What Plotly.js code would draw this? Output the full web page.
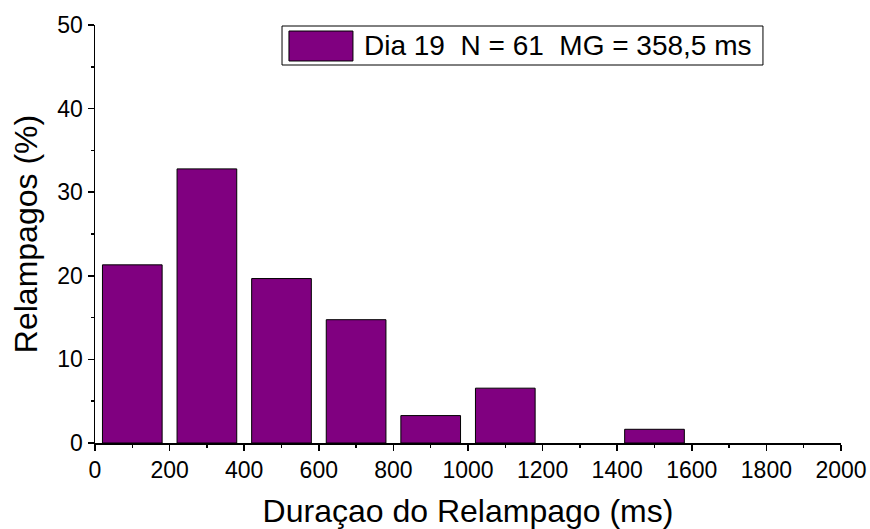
<!DOCTYPE html>
<html>
<head>
<meta charset="utf-8">
<script src="https://cdn.plot.ly/plotly-3.0.1.min.js"></script>
<style>html,body{margin:0;padding:0;background:#fff;}#chart{width:870px;height:529px;}</style>
</head>
<body>
<div id="chart"></div>
<script>
// Bin centres (ms) and percentage of flashes per bin
const binCenters = [100, 300, 500, 700, 900, 1100, 1300, 1500];
const percentages = [21.31, 32.79, 19.67, 14.75, 3.28, 6.56, 0, 1.64];
const legendLabel = "Dia 19&nbsp;&nbsp;N = 61&nbsp;&nbsp;MG = 358,5 ms";
const xTitle = "Duraçao do Relampago (ms)";
const yTitle = "Relampagos (%)";

const FONT = "Liberation Sans, Arial, Helvetica, sans-serif";
const PURPLE = "#800080";

const trace = {
  type: "bar",
  x: binCenters,
  y: percentages,
  width: 160,
  marker: { color: PURPLE, line: { color: "#000", width: percentages.map(v => v > 0 ? 1 : 0) } },
  showlegend: false,
  hoverinfo: "x+y"
};

const layout = {
  width: 870, height: 529,
  margin: { l: 95, r: 29, t: 25, b: 86 },
  paper_bgcolor: "#fff", plot_bgcolor: "#fff",
  font: { family: FONT, color: "#000" },
  xaxis: {
    range: [0, 2000], dtick: 200, tick0: 0,
    showgrid: false, zeroline: false,
    showline: true, linecolor: "#000", linewidth: 1.5,
    ticks: "outside", ticklen: 6, tickwidth: 1.5, tickcolor: "#000",
    minor: { dtick: 100, ticks: "outside", ticklen: 3, tickwidth: 1.5, tickcolor: "#000", showgrid: false },
    tickfont: { size: 23, family: FONT },
    title: { text: xTitle, font: { size: 32, family: FONT }, standoff: 17 }
  },
  yaxis: {
    range: [0, 50], dtick: 10, tick0: 0,
    showgrid: false, zeroline: false,
    showline: true, linecolor: "#000", linewidth: 1.5,
    ticks: "outside", ticklen: 6, tickwidth: 1.5, tickcolor: "#000",
    minor: { dtick: 5, ticks: "outside", ticklen: 3, tickwidth: 1.5, tickcolor: "#000", showgrid: false },
    tickfont: { size: 23, family: FONT },
    title: { text: yTitle, font: { size: 32, family: FONT }, standoff: 10 }
  },
  shapes: [
    { type: "rect", xref: "paper", yref: "paper", x0: 0.2507, x1: 0.8954, y0: 0.9043, y1: 0.9976,
      line: { color: "#000", width: 1 }, fillcolor: "#fff", layer: "above" },
    { type: "rect", xref: "paper", yref: "paper", x0: 0.260, x1: 0.3458, y0: 0.9139, y1: 0.9856,
      line: { color: "#000", width: 1 }, fillcolor: PURPLE, layer: "above" }
  ],
  annotations: [
    { xref: "paper", yref: "paper", x: 0.358, y: 0.9498, xanchor: "left", yanchor: "middle",
      text: legendLabel, showarrow: false, font: { size: 28, family: FONT, color: "#000" } }
  ]
};

Plotly.newPlot("chart", [trace], layout, { displayModeBar: false, staticPlot: true });
</script>
</body>
</html>
